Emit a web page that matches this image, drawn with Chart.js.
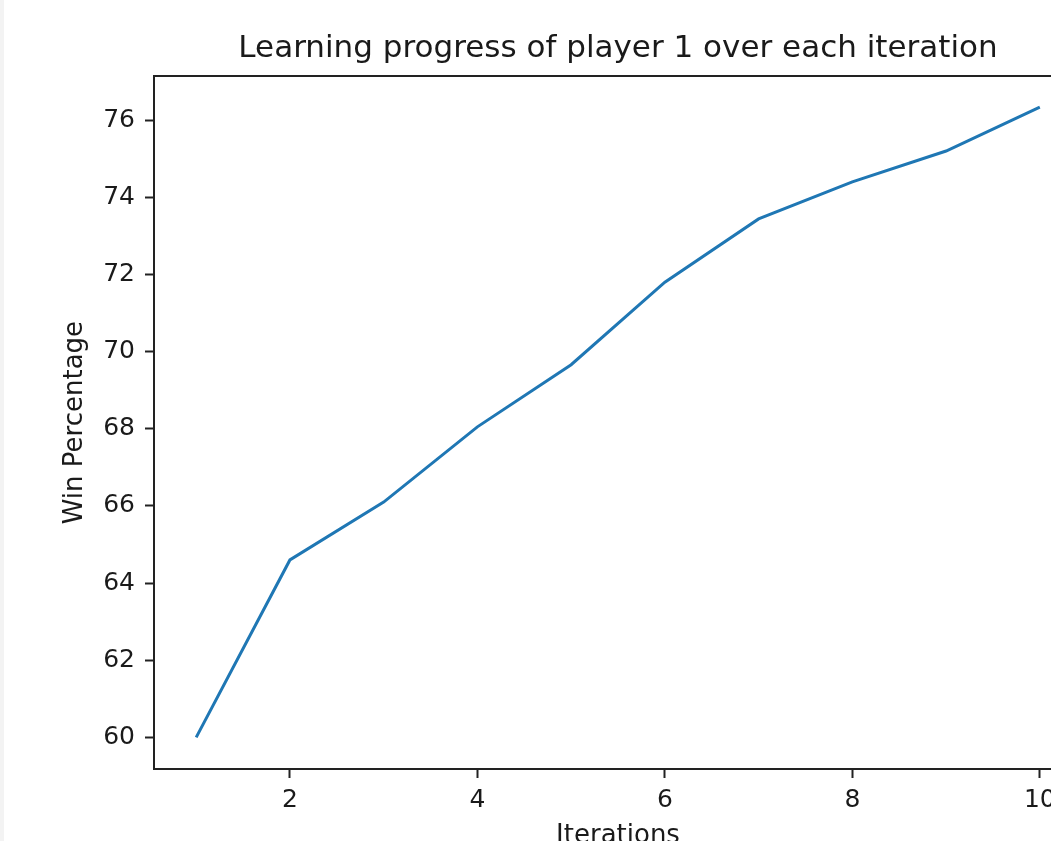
<!DOCTYPE html>
<html>
<head>
<meta charset="utf-8">
<script src="https://cdn.jsdelivr.net/npm/chart.js@4"></script>
<style>
    body { margin: 0; overflow: hidden; background: #fff; }
    #edge { position: absolute; left: 0; top: 0; width: 4px; height: 841px; background: #f3f3f3; }
    #wrap { position: absolute; left: 0; top: 0; width: 1236px; height: 856px; }
</style>
</head>
<body>
<div id="wrap"><canvas id="progressChart"></canvas></div>
<div id="edge"></div>
<script>
// values
const iterations = [1, 2, 3, 4, 5, 6, 7, 8, 9, 10];
const winPercentage = [60.0, 64.6, 66.1, 68.05, 69.66, 71.8, 73.44, 74.4, 75.2, 76.34];

const textColor = '#1a1a1a';
const spineColor = '#222';
const fontFamily = "'DejaVu Sans', sans-serif";

// Builds the line chart, matplotlib style axes (box all round)
function buildProgressChart(canvasName) {
    return new Chart(document.getElementById(canvasName), {
        type: 'line',
        data: {
            datasets: [
                {
                    data: iterations.map((it, i) => ({ x: it, y: winPercentage[i] })),
                    borderColor: '#1f77b4',
                    borderWidth: 3,
                    pointRadius: 0,
                    tension: 0,
                },
            ],
        },
        options: {
            animation: false,
            responsive: true,
            maintainAspectRatio: false,
            layout: {
                padding: { left: 0, right: 154, top: 0, bottom: 0 }
            },
            plugins: {
                legend: {
                    display: false
                },
                tooltip: {
                    enabled: false
                },
                title: {
                    display: true,
                    fullSize: false,
                    text: 'Learning progress of player 1 over each iteration',
                    color: textColor,
                    font: { family: fontFamily, size: 31, weight: 'normal' },
                    padding: { top: 30, bottom: 9 },
                },
            },
            scales: {
                x: {
                    type: 'linear',
                    min: 0.55,
                    max: 10.45,
                    border: { display: true, color: spineColor, width: 2 },
                    grid: { drawOnChartArea: false, drawTicks: true, tickLength: 9, color: spineColor, tickWidth: 2 },
                    ticks: { stepSize: 2, includeBounds: false, color: textColor, padding: 7, maxRotation: 0,
                             font: { family: fontFamily, size: 25 } },
                    title: { display: true, text: 'Iterations', color: textColor,
                             font: { family: fontFamily, size: 26 }, padding: { top: 0, bottom: 4 } },
                    afterFit: function (scale) { scale.height = 87; },
                },
                // top spine only
                xTop: {
                    type: 'linear',
                    position: 'top',
                    min: 0.55,
                    max: 10.45,
                    border: { display: true, color: spineColor, width: 2 },
                    grid: { drawOnChartArea: false, drawTicks: false },
                    ticks: { display: false },
                    afterFit: function (scale) { scale.height = 0; },
                },
                y: {
                    type: 'linear',
                    min: 59.18,
                    max: 77.14,
                    border: { display: true, color: spineColor, width: 2 },
                    grid: { drawOnChartArea: false, drawTicks: true, tickLength: 9, color: spineColor, tickWidth: 2 },
                    ticks: { stepSize: 2, includeBounds: false, color: textColor, padding: 10,
                             font: { family: fontFamily, size: 25 } },
                    title: { display: true, text: 'Win Percentage', color: textColor,
                             font: { family: fontFamily, size: 26 }, padding: { top: 60, bottom: 60 } },
                    afterFit: function (scale) { scale.width = 154; },
                },
            },
        },
    });
}

const progressChart = buildProgressChart('progressChart');
</script>
</body>
</html>
